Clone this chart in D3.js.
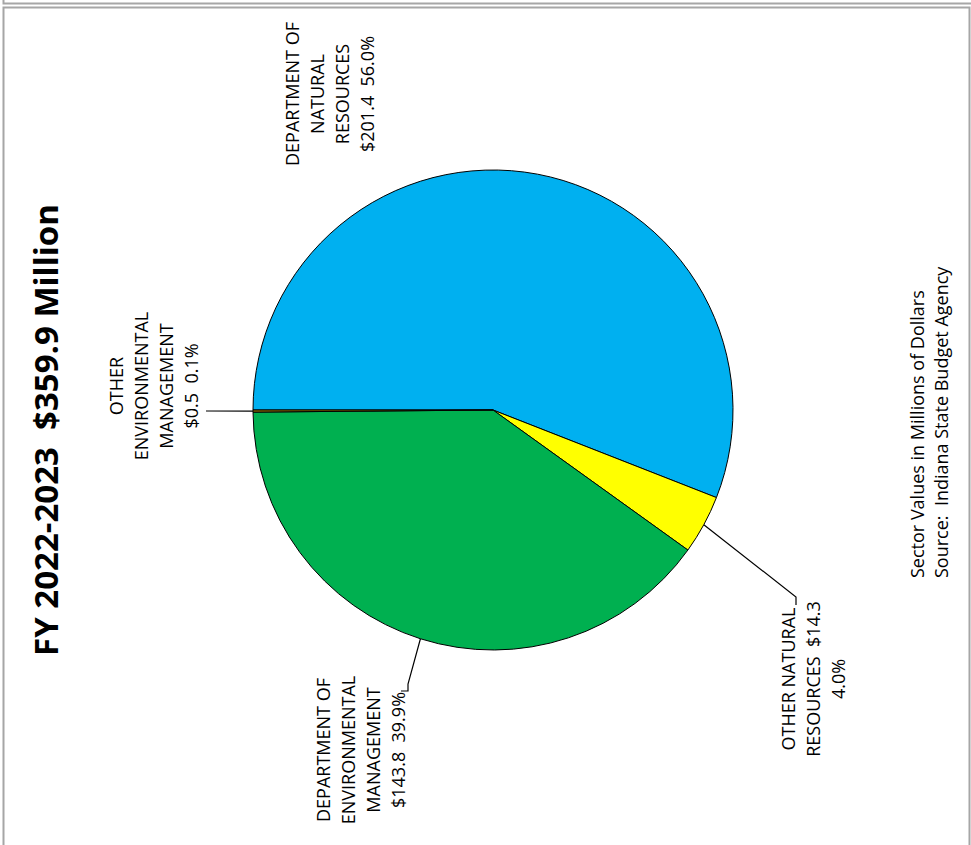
<!DOCTYPE html>
<html>
<head>
<meta charset="utf-8">
<script src="https://cdn.jsdelivr.net/npm/d3@7"></script>
<style>
  html, body { margin: 0; padding: 0; background: #fff; }
  svg { display: block; }
  text { font-family: "Open Sans", "Noto Sans", sans-serif; fill: #000; }
</style>
</head>
<body>
<svg id="chart" width="971" height="845"></svg>
<script>
// ---- data ----
const categories = [
  "DEPARTMENT OF NATURAL RESOURCES",
  "OTHER NATURAL RESOURCES",
  "DEPARTMENT OF ENVIRONMENTAL MANAGEMENT",
  "OTHER ENVIRONMENTAL MANAGEMENT"
];
const values = [201.4, 14.3, 143.8, 0.5];
const percents = ["56.0%", "4.0%", "39.9%", "0.1%"];
const labelLines = [
  ["DEPARTMENT OF", "NATURAL", "RESOURCES", "$201.4  56.0%"],
  ["OTHER NATURAL", "RESOURCES  $14.3", "4.0%"],
  ["DEPARTMENT OF", "ENVIRONMENTAL", "MANAGEMENT", "$143.8  39.9%"],
  ["OTHER", "ENVIRONMENTAL", "MANAGEMENT", "$0.5  0.1%"]
];
const colors = ["#00B0F0", "#FFFF00", "#00B050", "#A57C00"];
const titleText = "FY 2022-2023  $359.9 Million";
const noteLines = ["Sector Values in Millions of Dollars", "Source:  Indiana State Budget Agency"];

// ---- layout ----
const svg = d3.select("#chart");
const cx = 493, cy = 410, R = 240;

// frame
svg.append("path")
  .attr("d", "M3.5,0 L3.5,3.5 L971,3.5")
  .attr("fill", "none").attr("stroke", "#a6a6a6").attr("stroke-width", 2);
svg.append("path")
  .attr("d", "M3.5,850 L3.5,7.5 L969.5,7.5 L969.5,850")
  .attr("fill", "none").attr("stroke", "#a6a6a6").attr("stroke-width", 2);

const pie = d3.pie().sort(null).value(d => d)
  .startAngle(3 * Math.PI / 2).endAngle(3 * Math.PI / 2 + 2 * Math.PI);
const arcs = pie(values);
const arc = d3.arc().innerRadius(0).outerRadius(R);

const g = svg.append("g").attr("transform", `translate(${cx},${cy})`);
g.selectAll("path.slice").data(arcs).enter().append("path")
  .attr("class", "slice")
  .attr("d", arc)
  .attr("fill", (d, i) => colors[i])
  .attr("stroke", "#000").attr("stroke-width", 1).attr("stroke-linejoin", "round");

// label placement (screen coords of rotated text block centre)
const labelPos = [
  {x: 330, y: 94},
  {x: 814, y: 679},
  {x: 361, y: 750},
  {x: 154.5, y: 386}
];
const lineGap = 25;
const fontSize = 18;

labelLines.forEach((lines, i) => {
  const p = labelPos[i];
  const t = svg.append("g").attr("transform", `translate(${p.x},${p.y}) rotate(-90)`);
  lines.forEach((ln, j) => {
    t.append("text")
      .attr("x", 0)
      .attr("y", (j - (lines.length - 1) / 2) * lineGap)
      .attr("dy", "0.35em")
      .attr("text-anchor", "middle")
      .style("font-size", fontSize + "px")
      .style("white-space", "pre")
      .text(ln);
  });
});

// leader lines from slice edge midpoint
function edgePoint(d) {
  const a = (d.startAngle + d.endAngle) / 2;
  return [cx + R * Math.sin(a), cy - R * Math.cos(a)];
}
const leaders = [
  null,
  [[796, 597], [796, 605]],
  [[408, 684], [408, 691], [401, 691]],
  [[206, 411]]
];
const line = d3.line();
leaders.forEach((pts, i) => {
  if (!pts) return;
  svg.append("path")
    .attr("d", line([edgePoint(arcs[i])].concat(pts)))
    .attr("fill", "none").attr("stroke", "#000").attr("stroke-width", 1.2);
});

// title
svg.append("text")
  .attr("transform", "translate(46,430) rotate(-90)")
  .attr("text-anchor", "middle").attr("dy", "0.35em")
  .style("font-size", "33px").style("font-weight", "bold")
  .style("white-space", "pre")
  .text(titleText);

// note
const ng = svg.append("g").attr("transform", "translate(918,578) rotate(-90)");
noteLines.forEach((ln, j) => {
  ng.append("text")
    .attr("x", 0).attr("y", j * 24).attr("dy", "0.35em")
    .attr("text-anchor", "start")
    .style("font-size", "18px")
    .style("white-space", "pre")
    .text(ln);
});
</script>
</body>
</html>
